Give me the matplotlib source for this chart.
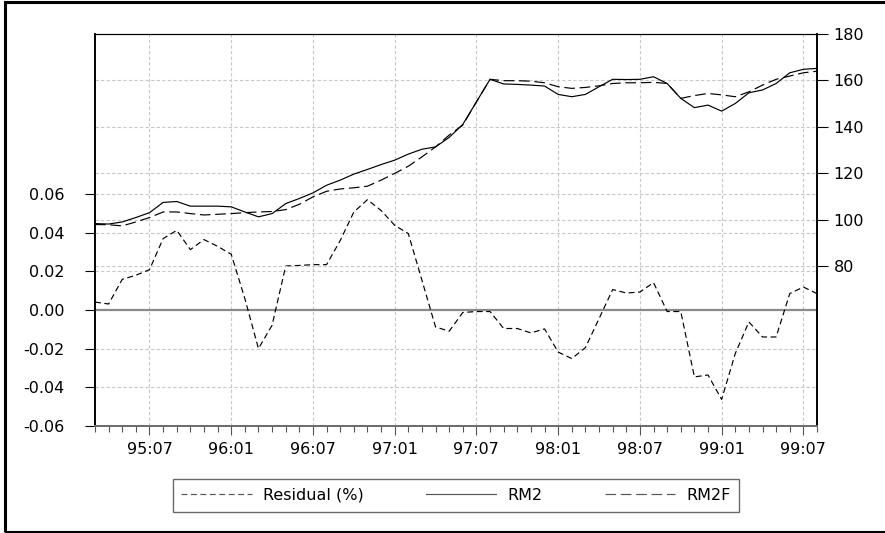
import matplotlib.pyplot as plt
from matplotlib.patches import Rectangle
import numpy as np

# monthly data 95:03 - 99:08
residual = [0.0041, 0.0031, 0.0159, 0.0180, 0.0209, 0.0370, 0.0413, 0.0313, 0.0365, 0.0330,
            0.0289, 0.0059, -0.0200, -0.0079, 0.0228, 0.0231, 0.0235, 0.0235, 0.0360, 0.0508,
            0.0572, 0.0516, 0.0439, 0.0396, 0.0154, -0.0088, -0.0110, -0.0013, -0.0008, -0.0008,
            -0.0096, -0.0096, -0.0119, -0.0098, -0.0218, -0.0252, -0.0195, -0.0045, 0.0106, 0.0088,
            0.0093, 0.0142, -0.0008, -0.0008, -0.0347, -0.0337, -0.0464, -0.0226, -0.0062, -0.0140,
            -0.0140, 0.0085, 0.0119, 0.0085]
rm2 = [98.4, 98.2, 99.1, 101.0, 103.1, 107.5, 107.9, 105.9, 105.9, 105.9,
       105.6, 103.4, 101.3, 102.7, 107.0, 109.2, 111.6, 114.9, 117.1, 119.7,
       121.7, 123.8, 125.7, 128.3, 130.4, 131.4, 135.5, 141.1, 150.8, 160.5,
       158.5, 158.3, 158.0, 157.6, 154.0, 153.0, 154.0, 157.3, 160.5, 160.4,
       160.5, 161.6, 158.7, 152.3, 148.3, 149.4, 146.8, 150.1, 154.7, 155.9,
       158.7, 163.3, 164.8, 165.2]
rm2f = [98.0, 97.9, 97.4, 99.1, 101.0, 103.4, 103.4, 102.7, 102.1, 102.4,
        102.7, 103.1, 103.4, 103.6, 104.4, 106.7, 109.9, 112.3, 113.3, 113.8,
        114.5, 117.1, 120.0, 123.1, 127.1, 131.4, 136.5, 140.8, 150.8, 160.5,
        159.9, 159.9, 159.7, 159.0, 157.3, 156.6, 157.0, 157.7, 158.7, 159.0,
        159.0, 159.2, 158.7, 152.3, 153.5, 154.4, 153.8, 153.0, 155.1, 158.0,
        160.5, 161.9, 163.3, 164.0]
tick_labels = ['95:07', '96:01', '96:07', '97:01', '97:07', '98:01', '98:07', '99:01', '99:07']

x = np.arange(len(residual))
major = np.arange(4, len(residual), 6)

plt.rcParams['font.family'] = 'DejaVu Sans'
plt.rcParams['font.size'] = 11.5

fig = plt.figure(figsize=(8.85, 5.33), dpi=100)
ax = fig.add_axes([95/885, 1 - 425.7/533, 722/885, 391.7/533])
ax2 = ax.twinx()

grid_kw = dict(color='#c8c8c8', linestyle=(0, (3, 2)), linewidth=0.8, zorder=0)
for xv in major:
    ax.axvline(xv, **grid_kw)
for yv in [-0.04, -0.02, 0.02, 0.04, 0.06]:
    ax.axhline(yv, **grid_kw)
for yv in [80, 100, 120, 140, 160]:
    ax2.axhline(yv, **grid_kw)
ax.axhline(0, color='#8a8a8a', linewidth=1.6, zorder=1)

l1, = ax.plot(x, residual, color='black', linewidth=0.85, linestyle=(0, (5, 3)), zorder=3)
l2, = ax2.plot(x, rm2, color='black', linewidth=0.85, zorder=3)
l3, = ax2.plot(x, rm2f, color='black', linewidth=0.85, linestyle=(0, (9, 4)), zorder=3)

ax.set_xlim(0, len(residual) - 1)
ax.set_ylim(-0.06, 0.1431)
ax2.set_ylim(11.4, 180)

ax.set_yticks([-0.06, -0.04, -0.02, 0.00, 0.02, 0.04, 0.06])
ax.set_yticklabels(['-0.06', '-0.04', '-0.02', '0.00', '0.02', '0.04', '0.06'])
ax2.set_yticks([80, 100, 120, 140, 160, 180])
ax.set_xticks(major)
ax.set_xticklabels(tick_labels)
ax.set_xticks(x, minor=True)

ax.tick_params(axis='y', direction='out', length=7, width=0.8, pad=15)
ax2.tick_params(axis='y', direction='out', length=8, width=0.8, pad=4)
ax.tick_params(axis='x', which='major', direction='out', length=6.5, width=0.8, color='#555555', pad=5)
ax.tick_params(axis='x', which='minor', direction='out', length=4, width=0.8, color='#555555')

for a in (ax, ax2):
    a.spines['left'].set_linewidth(1.2)
    a.spines['right'].set_linewidth(1.2)
    a.spines['top'].set_linewidth(0.8)
    a.spines['bottom'].set_linewidth(1.4)
    a.spines['bottom'].set_color('#6e6e6e')

leg = fig.legend([l1, l2, l3], ['Residual (%)', 'RM2', 'RM2F'],
                 loc='center', bbox_to_anchor=(456/885, 1 - 495.3/533), ncol=3,
                 frameon=True, fancybox=False, handlelength=4.4, handletextpad=0.7,
                 columnspacing=3.9, borderpad=0.55, fontsize=11.5)
leg.get_frame().set_edgecolor('#444444')
leg.get_frame().set_linewidth(1.0)
for h in leg.get_lines():
    h.set_color('#555555')

# outer frame
fig.patches.append(Rectangle((5/885, 1.5/533), 1.0, 530/533, transform=fig.transFigure,
                             fill=False, edgecolor='black', linewidth=2.2))

fig.savefig('out.png', dpi=100)
